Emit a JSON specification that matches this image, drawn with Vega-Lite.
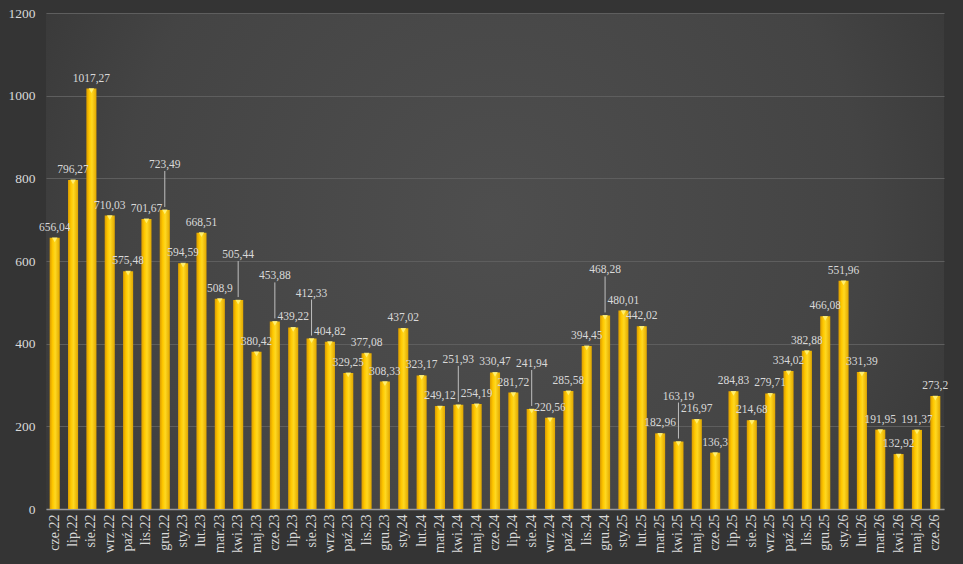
{
  "$schema": "https://vega.github.io/schema/vega-lite/v6.json",
  "width": 963,
  "height": 564,
  "autosize": {"type": "fit", "contains": "padding"},
  "padding": {"left": 8, "top": 6, "right": 15, "bottom": 11},
  "background": "#343434",
  "config": {
    "locale": {"number": {"decimal": ",", "thousands": "", "grouping": [3], "currency": ["", ""]}},
    "view": {
      "stroke": null,
      "fill": {
        "gradient": "radial",
        "x1": 0.5, "y1": 0.45, "r1": 0,
        "x2": 0.5, "y2": 0.45, "r2": 0.75,
        "stops": [
          {"offset": 0, "color": "#4e4e4e"},
          {"offset": 0.55, "color": "#444444"},
          {"offset": 1, "color": "#2c2c2c"}
        ]
      }
    },
    "font": "Liberation Serif",
    "axis": {
      "labelFont": "Liberation Serif",
      "labelColor": "#d9d9d9",
      "domain": false,
      "ticks": false,
      "title": null
    }
  },
  "data": {
    "values": [
      {"m": "cze.22", "v": 656.04},
      {"m": "lip.22", "v": 796.27},
      {"m": "sie.22", "v": 1017.27},
      {"m": "wrz.22", "v": 710.03},
      {"m": "paź.22", "v": 575.48},
      {"m": "lis.22", "v": 701.67},
      {"m": "gru.22", "v": 723.49},
      {"m": "sty.23", "v": 594.59},
      {"m": "lut.23", "v": 668.51},
      {"m": "mar.23", "v": 508.9},
      {"m": "kwi.23", "v": 505.44},
      {"m": "maj.23", "v": 380.42},
      {"m": "cze.23", "v": 453.88},
      {"m": "lip.23", "v": 439.22},
      {"m": "sie.23", "v": 412.33},
      {"m": "wrz.23", "v": 404.82},
      {"m": "paź.23", "v": 329.25},
      {"m": "lis.23", "v": 377.08},
      {"m": "gru.23", "v": 308.33},
      {"m": "sty.24", "v": 437.02},
      {"m": "lut.24", "v": 323.17},
      {"m": "mar.24", "v": 249.12},
      {"m": "kwi.24", "v": 251.93},
      {"m": "maj.24", "v": 254.19},
      {"m": "cze.24", "v": 330.47},
      {"m": "lip.24", "v": 281.72},
      {"m": "sie.24", "v": 241.94},
      {"m": "wrz.24", "v": 220.56},
      {"m": "paź.24", "v": 285.58},
      {"m": "lis.24", "v": 394.45},
      {"m": "gru.24", "v": 468.28},
      {"m": "sty.25", "v": 480.01},
      {"m": "lut.25", "v": 442.02},
      {"m": "mar.25", "v": 182.96},
      {"m": "kwi.25", "v": 163.19},
      {"m": "maj.25", "v": 216.97},
      {"m": "cze.25", "v": 136.3},
      {"m": "lip.25", "v": 284.83},
      {"m": "sie.25", "v": 214.68},
      {"m": "wrz.25", "v": 279.71},
      {"m": "paź.25", "v": 334.02},
      {"m": "lis.25", "v": 382.88},
      {"m": "gru.25", "v": 466.08},
      {"m": "sty.26", "v": 551.96},
      {"m": "lut.26", "v": 331.39},
      {"m": "mar.26", "v": 191.95},
      {"m": "kwi.26", "v": 132.92},
      {"m": "maj.26", "v": 191.37},
      {"m": "cze.26", "v": 273.2}
    ]
  },
  "encoding": {
    "x": {
      "field": "m",
      "type": "nominal",
      "sort": null,
      "scale": {"paddingInner": 0.45, "paddingOuter": 0.2},
      "axis": {
        "labelAngle": -90,
        "labelFontSize": 14,
        "labelPadding": 5,
        "domain": true,
        "domainColor": "#9a9a9a",
        "domainWidth": 1.5
      }
    },
    "y": {
      "field": "v",
      "type": "quantitative",
      "scale": {"domain": [0, 1200]},
      "axis": {
        "values": [0, 200, 400, 600, 800, 1000, 1200],
        "format": "d",
        "labelFontSize": 13.5,
        "labelPadding": 11,
        "grid": true,
        "gridColor": "#5e5e5e",
        "gridWidth": 1
      }
    }
  },
  "layer": [
    {
      "mark": {
        "type": "bar",
        "color": {
          "gradient": "linear",
          "x1": 0, "y1": 0, "x2": 1, "y2": 0,
          "stops": [
            {"offset": 0, "color": "#d99a00"},
            {"offset": 0.3, "color": "#ffc800"},
            {"offset": 0.55, "color": "#ffd820"},
            {"offset": 1, "color": "#e0a600"}
          ]
        }
      }
    },
    {
      "mark": {
        "type": "point",
        "shape": "triangle-down",
        "size": 30,
        "filled": true,
        "color": "#fff27a",
        "opacity": 0.9,
        "yOffset": 2
      }
    },
    {
      "transform": [
        {"window": [
          {"op": "row_number", "as": "i"},
          {"op": "lag", "field": "v", "as": "pv"},
          {"op": "lead", "field": "v", "as": "nv"}
        ]},
        {"filter": "!(datum.i % 2 == 1 && ((datum.pv != null && abs(datum.v - datum.pv) < 28) || (datum.nv != null && abs(datum.v - datum.nv) < 28)))"}
      ],
      "mark": {
        "type": "text",
        "baseline": "bottom",
        "dy": -5,
        "fontSize": 11.5,
        "color": "#d9d9d9",
        "font": "Liberation Serif"
      },
      "encoding": {
        "text": {"field": "v", "type": "quantitative", "format": ".2~f"}
      }
    },
    {
      "transform": [
        {"window": [
          {"op": "row_number", "as": "i"},
          {"op": "lag", "field": "v", "as": "pv"},
          {"op": "lead", "field": "v", "as": "nv"}
        ]},
        {"filter": "datum.i % 2 == 1 && ((datum.pv != null && abs(datum.v - datum.pv) < 28) || (datum.nv != null && abs(datum.v - datum.nv) < 28))"}
      ],
      "mark": {
        "type": "text",
        "baseline": "bottom",
        "dy": -40,
        "fontSize": 11.5,
        "color": "#d9d9d9",
        "font": "Liberation Serif"
      },
      "encoding": {
        "text": {"field": "v", "type": "quantitative", "format": ".2~f"}
      }
    },
    {
      "transform": [
        {"window": [
          {"op": "row_number", "as": "i"},
          {"op": "lag", "field": "v", "as": "pv"},
          {"op": "lead", "field": "v", "as": "nv"}
        ]},
        {"filter": "datum.i % 2 == 1 && ((datum.pv != null && abs(datum.v - datum.pv) < 28) || (datum.nv != null && abs(datum.v - datum.nv) < 28))"}
      ],
      "mark": {
        "type": "rule",
        "color": "#bfbfbf",
        "strokeWidth": 1,
        "yOffset": -3,
        "y2Offset": -39
      },
      "encoding": {
        "y2": {"field": "v"}
      }
    }
  ]
}
